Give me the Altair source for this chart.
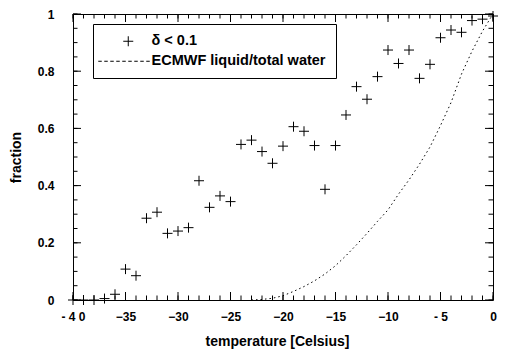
import altair as alt
import pandas as pd

# ---- data ----
temps = [-40, -39, -38, -37, -36, -35, -34, -33, -32, -31, -30, -29, -28, -27,
         -26, -25, -24, -23, -22, -21, -20, -19, -18, -17, -16, -15, -14, -13,
         -12, -11, -10, -9, -8, -7, -6, -5, -4, -3, -2, -1, 0]
fraction = [0.0, 0.0, 0.0, 0.005, 0.02, 0.108, 0.085, 0.286, 0.307, 0.233,
            0.241, 0.253, 0.417, 0.324, 0.364, 0.344, 0.544, 0.559, 0.519,
            0.478, 0.538, 0.606, 0.59, 0.54, 0.387, 0.54, 0.647, 0.746, 0.702,
            0.781, 0.874, 0.827, 0.874, 0.775, 0.824, 0.917, 0.944, 0.936,
            0.977, 0.982, 0.993]

ecmwf_t = [-23, -22, -21, -20, -19, -18, -17, -16, -15, -14, -13, -12, -11,
           -10, -9, -8, -7, -6, -5, -4, -3, -2, -1, 0]
ecmwf_f = [0.0, 0.002, 0.006, 0.015, 0.03, 0.047, 0.067, 0.091, 0.12, 0.155,
           0.193, 0.233, 0.275, 0.315, 0.37, 0.42, 0.475, 0.535, 0.61, 0.69,
           0.79, 0.87, 0.94, 1.0]

series_names = ["δ < 0.1", "ECMWF liquid/total water"]

x_major = [-40, -35, -30, -25, -20, -15, -10, -5, 0]
x_minor = [-40, -39, -38, -37, -36, -35, -34, -33, -32, -31, -30, -29, -28,
           -27, -26, -25, -24, -23, -22, -21, -20, -19, -18, -17, -16, -15,
           -14, -13, -12, -11, -10, -9, -8, -7, -6, -5, -4, -3, -2, -1, 0]
y_major = [0, 0.2, 0.4, 0.6, 0.8, 1.0]
y_minor = [0, 0.05, 0.1, 0.15, 0.2, 0.25, 0.3, 0.35, 0.4, 0.45, 0.5, 0.55,
           0.6, 0.65, 0.7, 0.75, 0.8, 0.85, 0.9, 0.95, 1.0]

W, H = 420, 286
FONT = "Liberation Sans"

pts = pd.DataFrame({"t": temps, "f": fraction, "series": series_names[0]})
curve = pd.DataFrame({"t": ecmwf_t, "f": ecmwf_f})

xscale = alt.Scale(domain=[-40, 0], nice=False, zero=False)
yscale = alt.Scale(domain=[0, 1], nice=False, zero=False)

plus_path = "M-1,0H1M0,-1V1"
# dashed line legend symbol built as a path of short segments
segs = []
x0 = -6.0
while x0 < 4.2:
    segs.append(f"M{x0:.2f},0H{min(x0 + 0.7, 4.3):.2f}")
    x0 += 1.2
dash_path = "".join(segs)

xaxis = alt.Axis(
    values=x_major, ticks=False, tickSize=0, domain=False, grid=False,
    labelPadding=11, labelFont=FONT, labelFontSize=12, labelFontWeight="bold",
    labelColor="black", labelFlush=False, labelOverlap=False,
    labelExpr="datum.value == -40 ? '- 4 0' : (datum.value == -5 ? '- 5' : datum.label)",
    title="temperature [Celsius]", titleFont=FONT, titleFontSize=14,
    titleFontWeight="bold", titleColor="black", titlePadding=12, titleX=204,
)
yaxis = alt.Axis(
    values=y_major, format="~g", ticks=False, tickSize=0, domain=False, grid=False,
    labelPadding=19, labelFont=FONT, labelFontSize=12, labelFontWeight="bold",
    labelColor="black", labelFlush=False, labelOverlap=False,
    title="fraction", titleFont=FONT, titleFontSize=14, titleFontWeight="bold",
    titleColor="black", titlePadding=14,
)

points = alt.Chart(pts).mark_point(
    filled=False, color="black", strokeWidth=1, size=100, opacity=1
).encode(
    x=alt.X("t:Q", scale=xscale, axis=xaxis),
    y=alt.Y("f:Q", scale=yscale, axis=yaxis),
    shape=alt.Shape(
        "series:N",
        scale=alt.Scale(domain=series_names, range=[plus_path, dash_path]),
        legend=alt.Legend(
            title=None, orient="none", legendX=20, legendY=10,
            strokeColor="black", padding=10, fillColor="white",
            symbolSize=100, symbolStrokeWidth=1, symbolStrokeColor="black",
            symbolOffset=18, labelOffset=16, rowPadding=4,
            labelFont=FONT, labelFontSize=14.5, labelFontWeight="bold",
            labelColor="black", labelLimit=400,
        ),
    ),
)

line = alt.Chart(curve).mark_line(
    color="black", strokeWidth=1, strokeDash=[1.5, 3]
).encode(
    x=alt.X("t:Q", scale=xscale, axis=xaxis),
    y=alt.Y("f:Q", scale=yscale, axis=yaxis),
)

def xticks(vals, length):
    d = pd.DataFrame({"v": vals})
    bot = alt.Chart(d).mark_rule(color="black", strokeWidth=1).encode(
        x=alt.X("v:Q", scale=xscale, axis=xaxis),
        y=alt.value(H), y2=alt.value(H - length))
    top = alt.Chart(d).mark_rule(color="black", strokeWidth=1).encode(
        x=alt.X("v:Q", scale=xscale, axis=xaxis),
        y=alt.value(0), y2=alt.value(length))
    return [bot, top]

def yticks(vals, length):
    d = pd.DataFrame({"v": vals})
    left = alt.Chart(d).mark_rule(color="black", strokeWidth=1).encode(
        y=alt.Y("v:Q", scale=yscale, axis=yaxis),
        x=alt.value(0), x2=alt.value(length))
    right = alt.Chart(d).mark_rule(color="black", strokeWidth=1).encode(
        y=alt.Y("v:Q", scale=yscale, axis=yaxis),
        x=alt.value(W), x2=alt.value(W - length))
    return [left, right]

layers = ([points, line] + xticks(x_minor, 4.5) + xticks(x_major, 8)
          + yticks(y_minor, 4.5) + yticks(y_major, 8))

chart = alt.layer(*layers).properties(
    width=W, height=H,
    autosize=alt.AutoSizeParams(type="none"),
    padding={"left": 73, "top": 14, "right": 25, "bottom": 54},
    background="white",
).configure_view(stroke="black", strokeWidth=1)

chart.save("out.html", embed_options={"renderer": "svg", "actions": False})
